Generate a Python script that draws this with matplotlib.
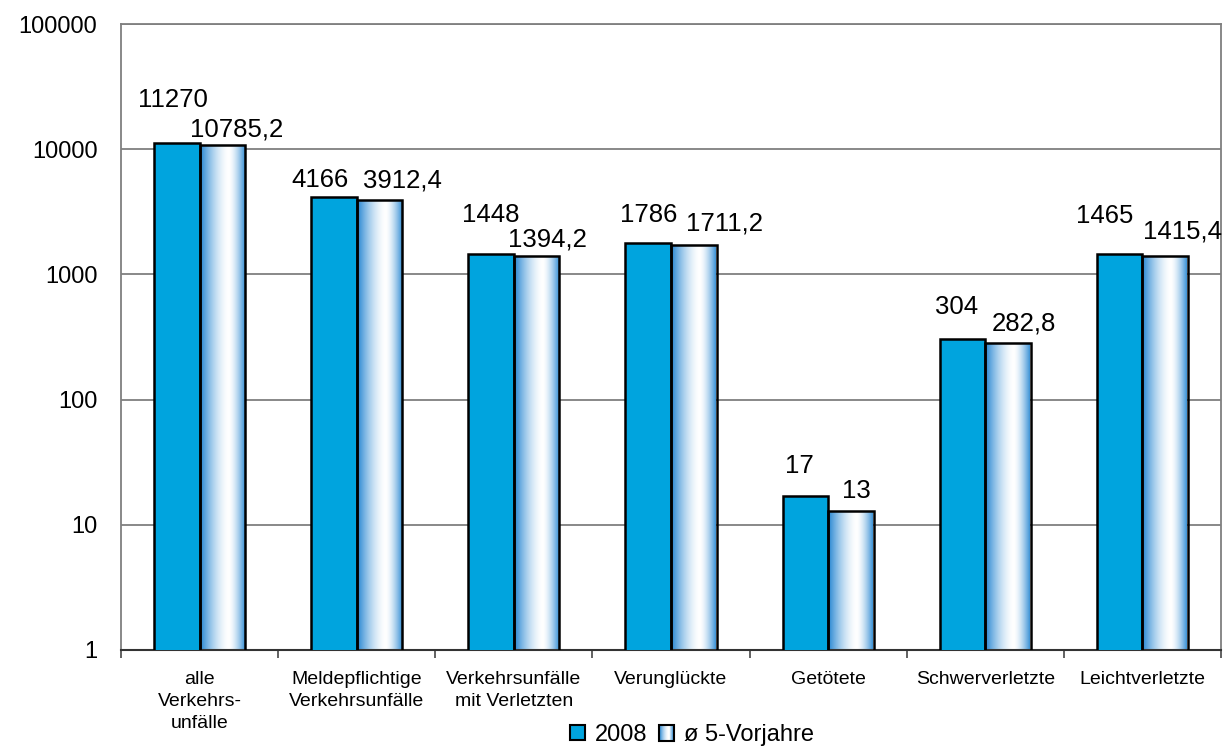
import matplotlib
matplotlib.use("Agg")
import matplotlib.pyplot as plt
from matplotlib.patches import Rectangle
import numpy as np

plt.rcParams['font.family'] = ['Liberation Sans', 'DejaVu Sans']

# Daten
kategorien = ["alle\nVerkehrs-\nunfälle", "Meldepflichtige\nVerkehrsunfälle",
              "Verkehrsunfälle\nmit Verletzten", "Verunglückte", "Getötete",
              "Schwerverletzte", "Leichtverletzte"]
werte_2008 = [11270, 4166, 1448, 1786, 17, 304, 1465]
werte_vorjahre = [10785.2, 3912.4, 1394.2, 1711.2, 13, 282.8, 1415.4]
serien = ["2008", "ø 5-Vorjahre"]

# Verschiebung der Beschriftungen (Pixel: dx, dy ueber Balkenende)
offs_2008 = [(-4, 43), (-14, 17), (0, 39), (0, 28), (-6, 30), (-6, 32), (-15, 38)]
offs_vorj = [(14, 16), (23, 20), (11, 17), (31, 22), (5, 20), (16, 20), (17, 24)]

blau = '#00A4DE'
rand_blau = np.array([40, 135, 210]) / 255.0


def gradient(n=200):
    t = np.linspace(0, 1, n)
    mitte = 0.62
    d = np.where(t < mitte, (mitte - t) / mitte, (t - mitte) / (1 - mitte))
    a = np.clip(d, 0, 1) ** 1.6
    farben = (1 - a)[:, None] * np.array([1, 1, 1]) + a[:, None] * rand_blau
    return farben


def fmt(v):
    if float(v).is_integer():
        return str(int(v))
    return f"{v:.1f}".replace('.', ',')


class GradHandler:
    def legend_artist(self, legend, orig_handle, fontsize, handlebox):
        x0, y0 = handlebox.xdescent, handlebox.ydescent
        w, h = handlebox.width, handlebox.height
        farben = gradient(16)
        for k, c in enumerate(farben):
            r = Rectangle((x0 + w * k / 16, y0), w / 16 + 0.3, h, facecolor=c,
                          edgecolor='none', transform=handlebox.get_transform())
            handlebox.add_artist(r)
        rand = Rectangle((x0, y0), w, h, facecolor='none', edgecolor='black', lw=1.5,
                         transform=handlebox.get_transform())
        handlebox.add_artist(rand)
        return rand


fig = plt.figure(figsize=(12.31, 7.46), dpi=100)
ax = fig.add_axes([0.0983, 0.1287, 0.8936, 0.8391])
ax.set_yscale('log')

x = np.arange(len(kategorien))
bw = 0.29

ax.bar(x - bw / 2, werte_2008, width=bw, color=blau, edgecolor='black',
       linewidth=1.8, zorder=3)

grad_img = gradient()[None, :, :]
for xi, v in zip(x, werte_vorjahre):
    ax.imshow(grad_img, extent=[xi, xi + bw, 1, v], aspect='auto', zorder=2,
              interpolation='bilinear')
ax.bar(x + bw / 2, werte_vorjahre, width=bw, facecolor='none', edgecolor='black',
       linewidth=1.8, zorder=3)

for xi, v, (dx, dy) in zip(x, werte_2008, offs_2008):
    ax.annotate(fmt(v), (xi - bw / 2, v), xytext=(dx, dy), textcoords='offset pixels',
                ha='center', va='center', fontsize=18.5)
for xi, v, (dx, dy) in zip(x, werte_vorjahre, offs_vorj):
    ax.annotate(fmt(v), (xi + bw / 2, v), xytext=(dx, dy), textcoords='offset pixels',
                ha='center', va='center', fontsize=18.5)

ax.set_xlim(-0.5, len(kategorien) - 0.5)
ax.set_ylim(1, 100000)
ax.set_yticks([1, 10, 100, 1000, 10000, 100000])
ax.set_yticklabels(["1", "10", "100", "1000", "10000", "100000"])
ax.yaxis.set_minor_locator(matplotlib.ticker.NullLocator())
ax.tick_params(axis='y', length=0, pad=17, labelsize=17)
ax.grid(axis='y', color='#7f7f7f', linewidth=1.3, zorder=0)
ax.set_axisbelow(True)

ax.set_xticks(np.arange(len(kategorien) + 1) - 0.5)
ax.set_xticklabels([])
ax.set_xticks(x, minor=True)
ax.set_xticklabels(kategorien, minor=True, fontsize=14, linespacing=1.4)
ax.tick_params(axis='x', which='major', length=6, width=1.3, color='#555555', direction='out')
ax.tick_params(axis='x', which='minor', length=0, pad=15)

for s in ['left', 'top', 'right']:
    ax.spines[s].set_color('#7f7f7f')
    ax.spines[s].set_linewidth(1.3)
ax.spines['bottom'].set_color('#333333')
ax.spines['bottom'].set_linewidth(1.5)

h1 = Rectangle((0, 0), 1, 1, facecolor=blau, edgecolor='black', lw=1.5)
h2 = Rectangle((0, 0), 1, 1, facecolor='white', edgecolor='black', lw=1.5)
fig.legend([h1, h2], serien, loc='center', bbox_to_anchor=(0.562, 0.015), ncol=2,
           frameon=False, fontsize=17, handlelength=0.65, handleheight=0.65,
           handletextpad=0.4, columnspacing=0.5, borderaxespad=0,
           handler_map={h2: GradHandler()})

fig.savefig("out.png", dpi=100)
